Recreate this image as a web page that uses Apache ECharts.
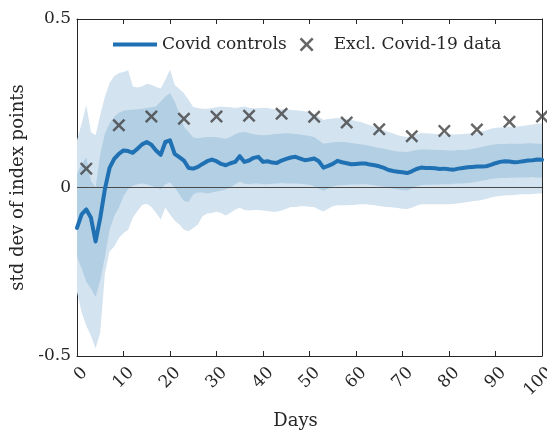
<!DOCTYPE html>
<html>
<head>
<meta charset="utf-8">
<script src="https://cdn.jsdelivr.net/npm/echarts@6/dist/echarts.min.js"></script>
<style>
  html, body { margin: 0; padding: 0; background: #ffffff; }
  #chart { width: 547px; height: 432px; }
</style>
</head>
<body>
<div id="chart"></div>
<script>
// Days since onset (0..100)
const days = Array.from({ length: 101 }, (_, i) => i);

// Mean response of the Covid control group (std dev of index points)
const meanControls = [
  -0.120, -0.080, -0.065, -0.090, -0.160, -0.090, -0.005, 0.058, 0.085, 0.100,
   0.110, 0.108, 0.103, 0.115, 0.128, 0.135, 0.127, 0.110, 0.097, 0.135,
   0.140, 0.100, 0.090, 0.080, 0.058, 0.056, 0.061, 0.070, 0.078, 0.083,
   0.078, 0.070, 0.066, 0.072, 0.076, 0.093, 0.076, 0.080, 0.088, 0.091,
   0.076, 0.078, 0.074, 0.073, 0.080, 0.085, 0.089, 0.091, 0.086, 0.081,
   0.083, 0.086, 0.078, 0.059, 0.064, 0.070, 0.079, 0.075, 0.072, 0.069,
   0.070, 0.071, 0.071, 0.068, 0.066, 0.063, 0.058, 0.052, 0.049, 0.047,
   0.045, 0.043, 0.048, 0.055, 0.059, 0.058, 0.058, 0.057, 0.055, 0.056,
   0.054, 0.053, 0.056, 0.058, 0.060, 0.061, 0.062, 0.062, 0.063, 0.067,
   0.072, 0.076, 0.078, 0.077, 0.075, 0.076, 0.078, 0.080, 0.081, 0.083,
   0.082
];

// Wide confidence band, upper edge
const outerUpper = [
   0.140, 0.190, 0.245, 0.165, 0.155, 0.215, 0.270, 0.310, 0.330, 0.340,
   0.343, 0.348, 0.300, 0.297, 0.300, 0.308, 0.305, 0.298, 0.294, 0.320,
   0.350, 0.305, 0.292, 0.280, 0.260, 0.239, 0.236, 0.234, 0.234, 0.236,
   0.238, 0.240, 0.239, 0.238, 0.236, 0.238, 0.240, 0.237, 0.235, 0.235,
   0.237, 0.236, 0.233, 0.231, 0.232, 0.233, 0.230, 0.229, 0.228, 0.226,
   0.224, 0.218, 0.210, 0.200, 0.203, 0.205, 0.206, 0.205, 0.203, 0.200,
   0.197, 0.194, 0.190, 0.185, 0.180, 0.176, 0.170, 0.165, 0.160, 0.155,
   0.152, 0.150, 0.153, 0.158, 0.162, 0.161, 0.160, 0.159, 0.158, 0.158,
   0.158, 0.157, 0.158, 0.159, 0.160, 0.160, 0.162, 0.166, 0.170, 0.174,
   0.177, 0.178, 0.179, 0.180, 0.180, 0.181, 0.183, 0.185, 0.187, 0.189,
   0.190
];

// Narrow confidence band, upper edge
const innerUpper = [
   0.040, 0.070, 0.090, 0.020, 0.000, 0.100, 0.160, 0.190, 0.210, 0.222,
   0.228, 0.230, 0.231, 0.232, 0.234, 0.236, 0.238, 0.240, 0.255, 0.270,
   0.280, 0.255, 0.220, 0.180, 0.165, 0.148, 0.146, 0.148, 0.150, 0.150,
   0.149, 0.147, 0.145, 0.150, 0.158, 0.163, 0.165, 0.162, 0.158, 0.156,
   0.155, 0.156, 0.158, 0.159, 0.160, 0.161, 0.160, 0.159, 0.157, 0.155,
   0.153, 0.150, 0.140, 0.130, 0.132, 0.134, 0.135, 0.135, 0.134, 0.132,
   0.130, 0.128, 0.126, 0.124, 0.120, 0.117, 0.115, 0.112, 0.109, 0.107,
   0.106, 0.105, 0.108, 0.111, 0.113, 0.113, 0.112, 0.112, 0.111, 0.111,
   0.110, 0.110, 0.111, 0.111, 0.112, 0.114, 0.117, 0.120, 0.123, 0.126,
   0.128, 0.129, 0.129, 0.130, 0.130, 0.130, 0.130, 0.131, 0.131, 0.130,
   0.130
];

// Narrow confidence band, lower edge
const innerLower = [
  -0.205, -0.240, -0.280, -0.300, -0.325, -0.275, -0.206, -0.125, -0.085, -0.060,
  -0.025, -0.005, 0.005, 0.010, 0.012, 0.010, 0.005, 0.000, -0.005, 0.010,
   0.015, 0.000, -0.020, -0.040, -0.043, -0.020, -0.015, -0.015, -0.018, -0.015,
  -0.012, -0.010, -0.005, 0.000, 0.010, 0.017, 0.012, 0.010, 0.012, 0.012,
   0.010, 0.010, 0.011, 0.012, 0.013, 0.012, 0.012, 0.012, 0.011, 0.010,
   0.008, 0.004, -0.004, -0.010, -0.004, 0.003, 0.006, 0.007, 0.008, 0.009,
   0.009, 0.010, 0.010, 0.008, 0.006, 0.004, 0.002, -0.001, -0.004, -0.006,
  -0.008, -0.009, -0.004, 0.003, 0.007, 0.008, 0.008, 0.009, 0.009, 0.010,
   0.010, 0.011, 0.012, 0.012, 0.013, 0.015, 0.017, 0.020, 0.022, 0.025,
   0.027, 0.028, 0.028, 0.029, 0.029, 0.030, 0.030, 0.030, 0.031, 0.030,
   0.030
];

// Wide confidence band, lower edge
const outerLower = [
  -0.310, -0.370, -0.410, -0.440, -0.478, -0.430, -0.255, -0.190, -0.175, -0.150,
  -0.135, -0.125, -0.090, -0.070, -0.052, -0.048, -0.058, -0.075, -0.095, -0.060,
  -0.080, -0.098, -0.110, -0.125, -0.130, -0.120, -0.110, -0.085, -0.077, -0.076,
  -0.072, -0.076, -0.083, -0.075, -0.066, -0.060, -0.067, -0.068, -0.067, -0.067,
  -0.068, -0.070, -0.072, -0.072, -0.068, -0.063, -0.058, -0.058, -0.056, -0.056,
  -0.057, -0.058, -0.065, -0.071, -0.063, -0.056, -0.053, -0.053, -0.053, -0.052,
  -0.051, -0.050, -0.050, -0.051, -0.053, -0.055, -0.057, -0.058, -0.059, -0.061,
  -0.063, -0.064, -0.060, -0.054, -0.050, -0.050, -0.050, -0.050, -0.050, -0.050,
  -0.050, -0.049, -0.047, -0.045, -0.043, -0.041, -0.039, -0.037, -0.034, -0.030,
  -0.027, -0.025, -0.024, -0.023, -0.022, -0.021, -0.020, -0.020, -0.019, -0.018,
  -0.018
];

// Weekly estimates excluding Covid-19 data
const exclDays   = [2, 9, 16, 23, 30, 37, 44, 51, 58, 65, 72, 79, 86, 93, 100];
const exclValues = [0.056, 0.185, 0.211, 0.204, 0.211, 0.213, 0.219, 0.210, 0.193,
                    0.173, 0.152, 0.168, 0.172, 0.195, 0.211];

// Axis settings
const xMin = 0, xMax = 100, xStep = 10;
const yMin = -0.5, yMax = 0.5, yStep = 0.5;

const FONT = 'DejaVu Serif';
const INK = '#262626';
const LIGHT = '#d4e3f0';
const MEDIUM = '#b3cfe4';
const BLUE = '#1f71b3';
const XMARK = 'path://M1.6,0 L6,4.4 L10.4,0 L12,1.6 L7.6,6 L12,10.4 L10.4,12 L6,7.6 L1.6,12 L0,10.4 L4.4,6 L0,1.6 Z';
const LINEICON = 'path://M0,0 H44 V4 H0 Z';

const pairs = arr => days.map((d, i) => [d, arr[i]]);

// Shaded band between a lower and an upper edge, drawn as one polygon
function bandSeries(name, lower, upper, fill, z) {
  return {
    name: name,
    type: 'custom',
    silent: true,
    clip: true,
    z: z,
    data: [[xMin, yMin]],
    encode: { x: 0, y: 1 },
    renderItem: function (params, api) {
      const pts = [];
      days.forEach((d, i) => pts.push(api.coord([d, upper[i]])));
      for (let i = days.length - 1; i >= 0; i--) pts.push(api.coord([days[i], lower[i]]));
      return {
        type: 'polygon',
        shape: { points: pts },
        style: { fill: fill, stroke: null }
      };
    }
  };
}

const chart = echarts.init(document.getElementById('chart'), null, { renderer: 'canvas' });

chart.setOption({
  animation: false,
  backgroundColor: '#ffffff',
  grid: {
    left: 77, right: 5, top: 19, bottom: 76,
    containLabel: false, outerBoundsMode: 'none'
  },
  legend: {
    left: 113,
    top: 36,
    padding: 0,
    itemWidth: 44,
    itemHeight: 14,
    itemGap: 13,
    textStyle: { fontFamily: FONT, fontSize: 17, color: INK },
    data: [
      { name: 'Covid controls', icon: LINEICON, itemStyle: { color: BLUE } },
      { name: 'Excl. Covid-19 data', icon: XMARK }
    ]
  },
  xAxis: [
    {
      type: 'value', position: 'bottom', min: xMin, max: xMax, interval: xStep,
      name: 'Days', nameLocation: 'middle', nameGap: 56,
      nameTextStyle: { fontFamily: FONT, fontSize: 18, color: INK, padding: [0, 28, 0, 0] },
      axisLine: { show: true, onZero: false, lineStyle: { color: INK, width: 1 } },
      axisTick: { show: true, inside: true, length: 5, lineStyle: { color: INK } },
      axisLabel: {
        rotate: 45, margin: 22, padding: [0, -11, 0, 0],
        fontFamily: FONT, fontSize: 17, color: INK
      },
      splitLine: { show: false }
    },
    {
      type: 'value', position: 'top', min: xMin, max: xMax, interval: xStep,
      axisLine: { show: true, onZero: false, lineStyle: { color: INK, width: 1 } },
      axisTick: { show: true, inside: true, length: 5, lineStyle: { color: INK } },
      axisLabel: { show: false },
      splitLine: { show: false }
    }
  ],
  yAxis: [
    {
      type: 'value', position: 'left', min: yMin, max: yMax, interval: yStep,
      name: 'std dev of index points', nameLocation: 'middle', nameGap: 40,
      nameTextStyle: { fontFamily: FONT, fontSize: 18, color: INK },
      axisLine: { show: true, onZero: false, lineStyle: { color: INK, width: 1 } },
      axisTick: { show: true, inside: true, length: 5, lineStyle: { color: INK } },
      axisLabel: { margin: 6, fontFamily: FONT, fontSize: 17, color: INK },
      splitLine: { show: false }
    },
    {
      type: 'value', position: 'right', min: yMin, max: yMax, interval: yStep,
      axisLine: { show: true, onZero: false, lineStyle: { color: INK, width: 1 } },
      axisTick: { show: true, inside: true, length: 5, lineStyle: { color: INK } },
      axisLabel: { show: false },
      splitLine: { show: false }
    }
  ],
  series: [
    bandSeries('wide band', outerLower, outerUpper, LIGHT, 1),
    bandSeries('narrow band', innerLower, innerUpper, MEDIUM, 2),
    {
      name: 'zero',
      type: 'line',
      data: [[xMin, 0], [xMax, 0]],
      symbol: 'none',
      silent: true,
      lineStyle: { color: '#4a4a4a', width: 1 },
      z: 3
    },
    {
      name: 'Covid controls',
      type: 'line',
      data: pairs(meanControls),
      symbol: 'none',
      lineStyle: { color: BLUE, width: 4, join: 'round', cap: 'round' },
      itemStyle: { color: BLUE },
      z: 4
    },
    {
      name: 'Excl. Covid-19 data',
      type: 'scatter',
      data: exclDays.map((d, i) => [d, exclValues[i]]),
      symbol: XMARK,
      symbolSize: 13,
      itemStyle: { color: '#404040' },
      z: 5
    }
  ]
});
</script>
</body>
</html>
